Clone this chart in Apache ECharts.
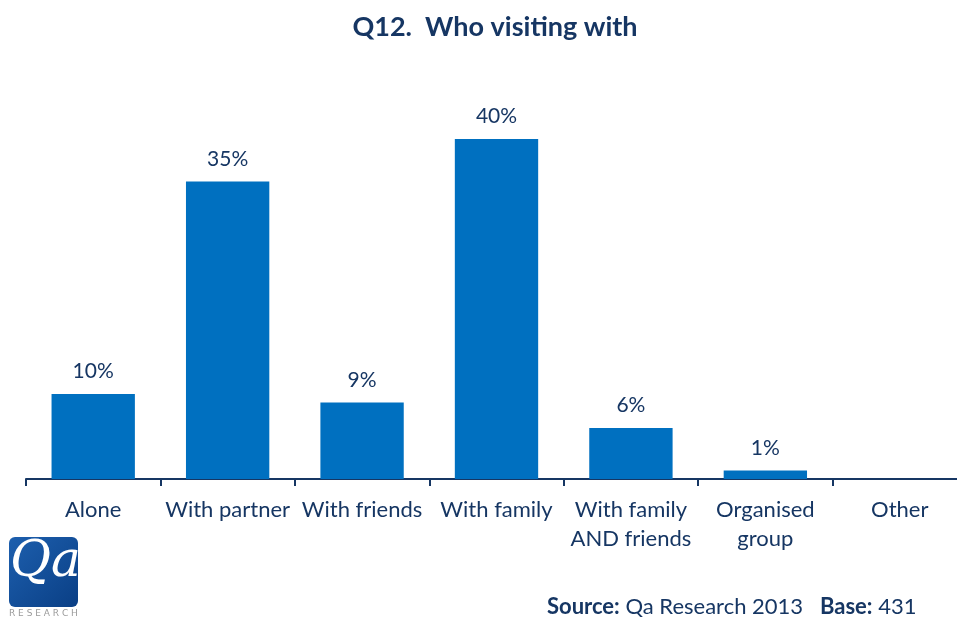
<!DOCTYPE html>
<html>
<head>
<meta charset="utf-8">
<script src="https://cdn.jsdelivr.net/npm/echarts@6/dist/echarts.min.js"></script>
<style>
  html, body { margin: 0; padding: 0; background: #fff; }
  #chart { width: 957px; height: 618px; }
</style>
</head>
<body>
<div id="chart"></div>
<script>
// Who visiting with – share of respondents (%)
const categories = ['Alone', 'With partner', 'With friends', 'With family', 'With family\nAND friends', 'Organised\ngroup', 'Other'];
const shares = [10, 35, 9, 40, 6, 1, 0];

const navy = '#163663';
const barBlue = '#0070C0';
const font = 'Lato, "Open Sans", sans-serif';

const chart = echarts.init(document.getElementById('chart'));
chart.setOption({
  animation: false,
  title: {
    text: 'Q12.  Who visiting with',
    left: 490,
    textAlign: 'center',
    top: 9,
    textStyle: { fontFamily: font, fontWeight: 'bold', fontSize: 27, color: navy }
  },
  // the plot runs past the right edge so the last category is cut off
  grid: { left: 26, width: 941, top: 54, bottom: 139, containLabel: false, outerBoundsMode: 'none' },
  xAxis: {
    type: 'category',
    data: categories,
    axisLine: { lineStyle: { color: navy, width: 2 } },
    axisTick: { show: true, length: 7, lineStyle: { color: navy, width: 2 } },
    axisLabel: { fontFamily: font, fontSize: 22, color: navy, margin: 16, lineHeight: 29, interval: 0 }
  },
  yAxis: {
    type: 'value',
    min: 0,
    max: 50,
    show: false,
    splitLine: { show: false }
  },
  series: [{
    type: 'bar',
    data: shares.map((v, i) => (i === shares.length - 1 ? { value: v, label: { show: false } } : v)),
    barWidth: '62%',
    itemStyle: { color: barBlue },
    label: {
      show: true,
      position: 'top',
      distance: 12,
      formatter: '{c}%',
      fontFamily: font,
      fontSize: 21,
      color: navy
    }
  }],
  graphic: [
    {
      type: 'rect',
      left: 9, top: 537,
      shape: { width: 69, height: 70, r: 6 },
      style: {
        fill: new echarts.graphic.LinearGradient(0, 0, 1, 1, [
          { offset: 0, color: '#1d5fae' },
          { offset: 1, color: '#0a3f85' }
        ])
      }
    },
    {
      type: 'text',
      left: 10, top: 538,
      style: {
        text: 'Qa',
        fill: '#ffffff',
        font: 'italic 50px "DejaVu Serif", serif'
      }
    },
    {
      type: 'text',
      left: 9, top: 609,
      style: {
        text: 'R E S E A R C H',
        fill: '#9a9a9a',
        font: '9px "DejaVu Sans", sans-serif'
      }
    },
    {
      type: 'text',
      left: 547, top: 596,
      style: {
        text: '{b|Source:} Qa Research 2013   {b|Base:} 431',
        rich: {
          b: { fontFamily: font, fontWeight: 'bold', fontSize: 22, fill: navy }
        },
        fontFamily: font,
        fontSize: 22,
        fill: navy
      }
    }
  ]
});
</script>
</body>
</html>
